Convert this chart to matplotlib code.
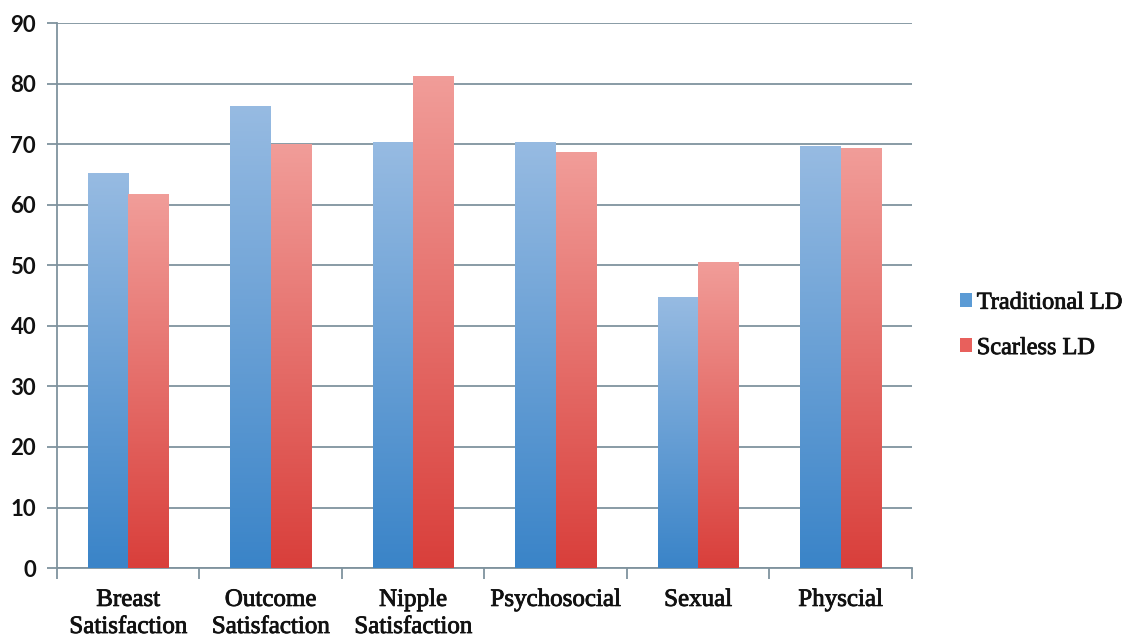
import matplotlib
matplotlib.use("Agg")
import matplotlib.pyplot as plt
import matplotlib.patheffects as pe
import numpy as np
from matplotlib.colors import LinearSegmentedColormap
from matplotlib.patches import Patch

categories = ["Breast\nSatisfaction", "Outcome\nSatisfaction", "Nipple\nSatisfaction",
              "Psychosocial", "Sexual", "Physcial"]
traditional = [65.2, 76.3, 70.4, 70.4, 44.8, 69.7]
scarless = [61.7, 70.0, 81.3, 68.7, 50.6, 69.4]
series_names = ["Traditional LD", "Scarless LD"]

blue_cmap = LinearSegmentedColormap.from_list("blue", ["#3a84c8", "#97bbe2"])
red_cmap = LinearSegmentedColormap.from_list("red", ["#d93f3b", "#f19d99"])
line_col = "#7f939e"
text_col = "#111111"
thicker = [pe.withStroke(linewidth=0.6, foreground=text_col)]


def gradientBars(ax, bars, cmap):
    # fill each bar with a vertical gradient, clipped to the bar shape
    grad = np.linspace(0, 1, 256).reshape(-1, 1)
    for bar in bars:
        x, y = bar.get_xy()
        w, h = bar.get_width(), bar.get_height()
        bar.set_facecolor("none")
        bar.set_edgecolor("none")
        im = ax.imshow(grad, cmap=cmap, origin="lower", aspect="auto",
                       extent=[x, x + w, y, y + h], zorder=3)
        im.set_clip_path(bar)


fig = plt.figure(figsize=(11.3, 6.39), dpi=100)
ax = fig.add_axes([0.0504, 0.111, 0.7566, 0.853])

x = np.arange(len(categories))
width = 0.285
bars1 = ax.bar(x - width / 2, traditional, width, zorder=3)
bars2 = ax.bar(x + width / 2, scarless, width, zorder=3)
gradientBars(ax, bars1, blue_cmap)
gradientBars(ax, bars2, red_cmap)

ax.set_xlim(-0.5, len(categories) - 0.5)
ax.set_ylim(0, 90)
ax.set_yticks(range(0, 91, 10))
ax.yaxis.grid(True, color=line_col, linewidth=1.3, zorder=1)
ax.set_axisbelow(True)

for side in ["top", "right"]:
    ax.spines[side].set_visible(False)
for side in ["left", "bottom"]:
    ax.spines[side].set_color(line_col)
    ax.spines[side].set_linewidth(1.3)

ax.set_xticks(x)
ax.set_xticklabels(categories, fontsize=18, family="Liberation Serif", linespacing=1.3,
                   color=text_col)
ax.tick_params(axis="x", length=0, pad=15)
ax.set_xticks(np.arange(-0.5, len(categories), 1), minor=True)
ax.tick_params(axis="x", which="minor", length=8, color=line_col, width=1.3)
ax.tick_params(axis="y", length=7, color=line_col, width=1.3, labelsize=16, pad=8,
               labelcolor=text_col)
for lbl in ax.get_yticklabels():
    lbl.set_family("Lato")
    lbl.set_fontweight("bold")
for lbl in ax.get_xticklabels():
    lbl.set_path_effects(thicker)

handles = [Patch(facecolor="#5b9bd5"), Patch(facecolor="#e8605c")]
leg = fig.legend(handles, series_names, loc="center left", bbox_to_anchor=(0.83, 0.49),
                 frameon=False, prop={"family": "Liberation Serif", "size": 17.5},
                 handlelength=0.5, handleheight=0.5, handletextpad=0.2, labelspacing=1.0)
for t in leg.get_texts():
    t.set_color(text_col)
    t.set_path_effects(thicker)

fig.savefig("out.png", dpi=100, facecolor="white")
